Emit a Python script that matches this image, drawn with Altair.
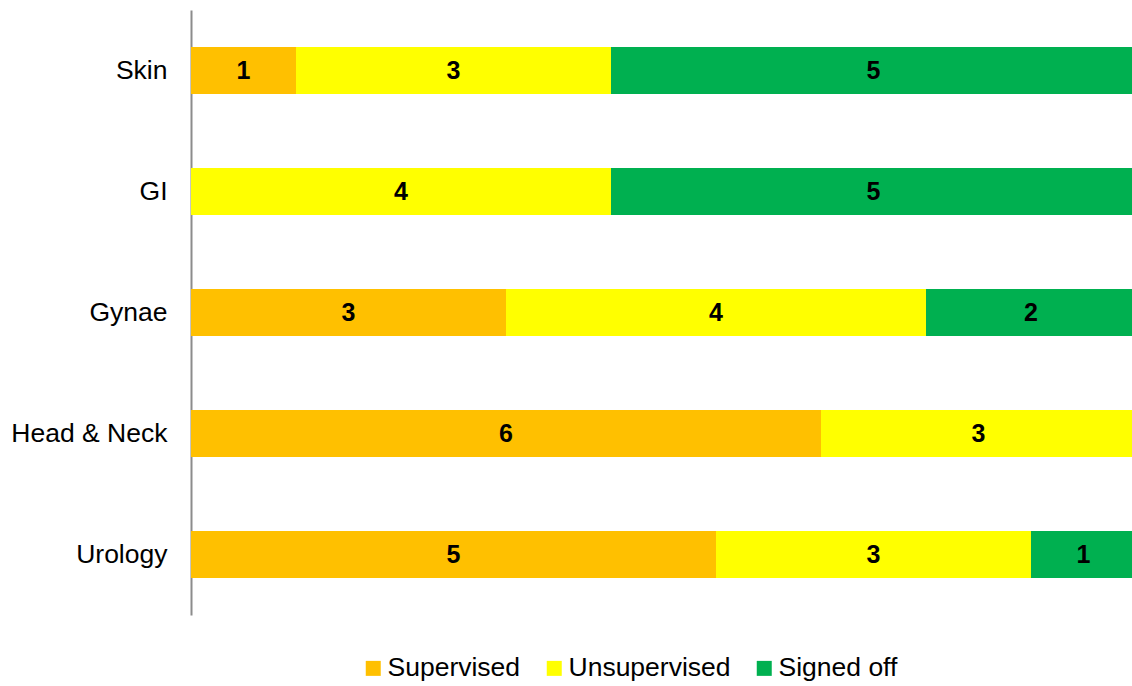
import altair as alt
import pandas as pd

# Categories (top to bottom), status series and counts per category
categories = ["Skin", "GI", "Gynae", "Head & Neck", "Urology"]
statuses = ["Supervised", "Unsupervised", "Signed off"]
supervised = [1, 0, 3, 6, 5]
unsupervised = [3, 4, 4, 3, 3]
signed_off = [5, 5, 2, 0, 1]
colors = ["#FFC000", "#FFFF00", "#00B050"]

rows = []
for i, cat in enumerate(categories):
    for j, (status, vals) in enumerate(zip(statuses, [supervised, unsupervised, signed_off])):
        if vals[i] > 0:
            rows.append({"category": cat, "status": status, "order": j, "count": vals[i]})
df = pd.DataFrame(rows)

FONT = "Liberation Sans"

base = alt.Chart(df).transform_stack(
    stack="count",
    groupby=["category"],
    as_=["x0", "x1"],
    sort=[alt.SortField("order", order="ascending")],
).transform_calculate(mid="(datum.x0 + datum.x1) / 2")

y_enc = alt.Y(
    "category:N",
    sort=categories,
    title=None,
    scale=alt.Scale(paddingInner=0.612, paddingOuter=0.306),
    axis=alt.Axis(
        ticks=False,
        domainColor="#8C8C8C",
        domainWidth=2,
        labelFont=FONT,
        labelFontSize=26.5,
        labelColor="#000000",
        labelPadding=24,
        grid=False,
    ),
)

# the visible axis runs slightly short of the 9-unit total, so the last segment is clipped
x_scale = alt.Scale(domain=[0, 8.962], nice=False, zero=True)

bars = base.mark_bar(clip=True).encode(
    y=y_enc,
    x=alt.X("x0:Q", scale=x_scale, axis=None),
    x2="x1:Q",
    color=alt.Color(
        "status:N",
        scale=alt.Scale(domain=statuses, range=colors),
        legend=alt.Legend(
            title=None,
            orient="none",
            direction="horizontal",
            legendX=169,
            legendY=645,
            symbolType="square",
            symbolSize=225,
            symbolStrokeWidth=0,
            symbolOpacity=1,
            labelFont=FONT,
            labelFontSize=26.5,
            labelColor="#000000",
            labelOffset=1,
            labelLimit=0,
            columnPadding=20,
        ),
    ),
)

labels = base.mark_text(font=FONT, fontSize=25, fontWeight="bold", color="#000000").encode(
    y=alt.Y("category:N", sort=categories),
    x=alt.X("mid:Q", scale=x_scale),
    text="count:Q",
)

chart = (
    alt.layer(bars, labels)
    .properties(
        width=941,
        height=605,
        padding={"left": 191, "top": 10, "right": 0, "bottom": 71},
        autosize=alt.AutoSizeParams(type="none"),
    )
    .configure_view(stroke=None)
)

chart.save("out.html", embed_options={"renderer": "svg", "actions": False})
